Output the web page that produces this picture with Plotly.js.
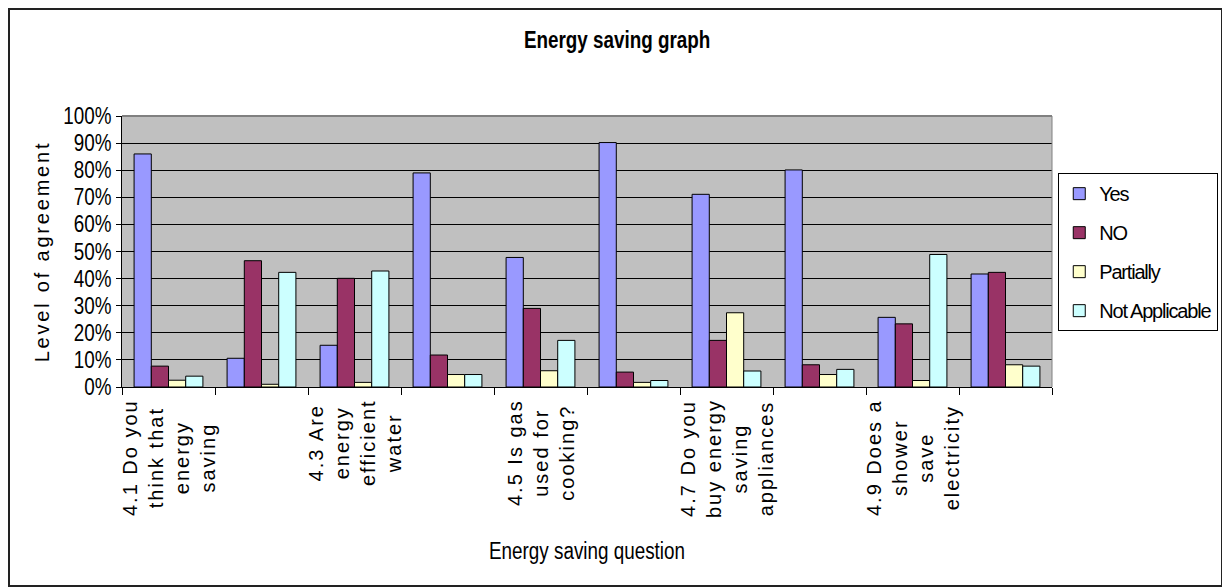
<!DOCTYPE html>
<html>
<head>
<meta charset="utf-8">
<script src="https://cdn.plot.ly/plotly-3.0.1.min.js"></script>
<style>
  html, body { margin: 0; padding: 0; background: #ffffff; }
  #wrap { position: relative; width: 1222px; height: 587px; }
  #chart { position: absolute; left: 0; top: 0; width: 1222px; height: 587px; }
  #frame { position: absolute; left: 8px; top: 8px; width: 1211px; height: 575px; border: 2px solid #222; pointer-events: none; }
  .annotation-text { letter-spacing: 2px; }
  .ytitle { letter-spacing: 2.8px; }
  /* the reference's horizontal texts are condensed */
  g.g-gtitle, g.g-xtitle { transform-box: fill-box; transform-origin: center center; transform: scaleX(0.82); }
  g.ytick { transform-box: fill-box; transform-origin: right center; transform: scaleX(0.82); }
  .legendtext { letter-spacing: -1.2px; }
</style>
</head>
<body>
<div id="wrap">
  <div id="chart"></div>
  <div id="frame"></div>
</div>
<script>
// ---- data ----
const categories = ["Q4.1", "Q4.2", "Q4.3", "Q4.4", "Q4.5", "Q4.6", "Q4.7", "Q4.8", "Q4.9", "Q4.10"];
const tickLabels = [
  "4.1 Do you<br>think that<br>energy<br>saving", "",
  "4.3 Are<br>energy<br>efficient<br>water", "",
  "4.5 Is gas<br>used for<br>cooking?", "",
  "4.7 Do you<br>buy energy<br>saving<br>appliances", "",
  "4.9 Does a<br>shower<br>save<br>electricity", ""
];
const seriesNames = ["Yes", "NO", "Partially", "Not Applicable"];
const yesValues = [86.0, 10.6, 15.4, 79.0, 47.8, 90.2, 71.1, 80.1, 25.7, 41.7];
const noValues = [7.7, 46.6, 40.1, 11.8, 29.0, 5.5, 17.2, 8.2, 23.3, 42.3];
const partiallyValues = [2.5, 1.0, 1.7, 4.6, 6.0, 1.7, 27.4, 4.6, 2.4, 8.2];
const notApplicableValues = [4.0, 42.3, 42.8, 4.6, 17.2, 2.4, 5.9, 6.5, 48.9, 7.7];
const seriesColors = ["#9999FF", "#993366", "#FFFFCC", "#CCFFFF"];

const sans = "'Liberation Sans', Arial, sans-serif";

const allValues = [yesValues, noValues, partiallyValues, notApplicableValues];
const traces = allValues.map((vals, i) => ({
  type: "bar",
  name: seriesNames[i],
  x: categories,
  y: vals,
  legendgroup: "g" + i,
  marker: { color: seriesColors[i], line: { color: "#000000", width: 1 } },
  hoverinfo: "x+y+name"
}));

// category labels: rotated, lines centred (as in the reference), every other category
const labelAnnotations = categories
  .map((c, i) => ({ c: c, t: tickLabels[i] }))
  .filter(d => d.t !== "")
  .map(d => ({
    x: d.c, xref: "x",
    y: 0, yref: "y",
    text: d.t,
    textangle: -90,
    align: "center",
    xanchor: "center",
    yanchor: "top",
    yshift: -10,
    showarrow: false,
    font: { family: sans, size: 20, color: "#000000" }
  }));

const layout = {
  width: 1222,
  height: 587,
  margin: { l: 122, r: 170, t: 116, b: 200, pad: 0, autoexpand: false },
  paper_bgcolor: "#ffffff",
  plot_bgcolor: "#C0C0C0",
  barmode: "group",
  bargap: 0.26,
  bargroupgap: 0,
  showlegend: true,
  title: {
    text: "<b>Energy saving graph</b>",
    font: { family: sans, size: 23, color: "#000000" },
    x: 0.505, xref: "container", xanchor: "center",
    y: 0.932, yref: "container", yanchor: "middle"
  },
  xaxis: {
    type: "category",
    range: [-0.5, categories.length - 0.5],
    tickson: "boundaries",
    ticks: "outside",
    ticklen: 7,
    tickcolor: "#000000",
    tickwidth: 1,
    showticklabels: false,
    showline: true,
    linecolor: "#000000",
    linewidth: 1,
    showgrid: false,
    zeroline: false,
    automargin: false,
    title: {
      text: "Energy saving question",
      font: { family: sans, size: 23, color: "#000000" },
      standoff: 155
    }
  },
  yaxis: {
    range: [0, 100],
    tickmode: "linear",
    tick0: 0,
    dtick: 10,
    ticksuffix: "%",
    ticks: "outside",
    ticklen: 5,
    tickcolor: "#000000",
    tickfont: { family: sans, size: 23, color: "#000000" },
    showline: true,
    linecolor: "#000000",
    linewidth: 1,
    showgrid: true,
    gridcolor: "#000000",
    gridwidth: 1,
    zeroline: false,
    automargin: false,
    title: {
      text: "Level of agreement",
      font: { family: sans, size: 20, color: "#000000" },
      standoff: 8
    }
  },
  legend: {
    xref: "container", yref: "container",
    x: 0.866, xanchor: "left",
    y: 0.705, yanchor: "top",
    bgcolor: "#ffffff",
    bordercolor: "#000000",
    borderwidth: 1,
    font: { family: sans, size: 20, color: "#000000" },
    traceorder: "grouped",
    tracegroupgap: 10,
    itemclick: false,
    itemdoubleclick: false
  },
  annotations: labelAnnotations,
  shapes: [
    { type: "line", xref: "paper", yref: "paper", x0: 0, x1: 1, y0: 1, y1: 1, line: { color: "#808080", width: 2 } },
    { type: "line", xref: "paper", yref: "paper", x0: 1, x1: 1, y0: 0, y1: 1, line: { color: "#808080", width: 1 } }
  ]
};

Plotly.newPlot("chart", traces, layout, { displayModeBar: false, responsive: false });
</script>
</body>
</html>
